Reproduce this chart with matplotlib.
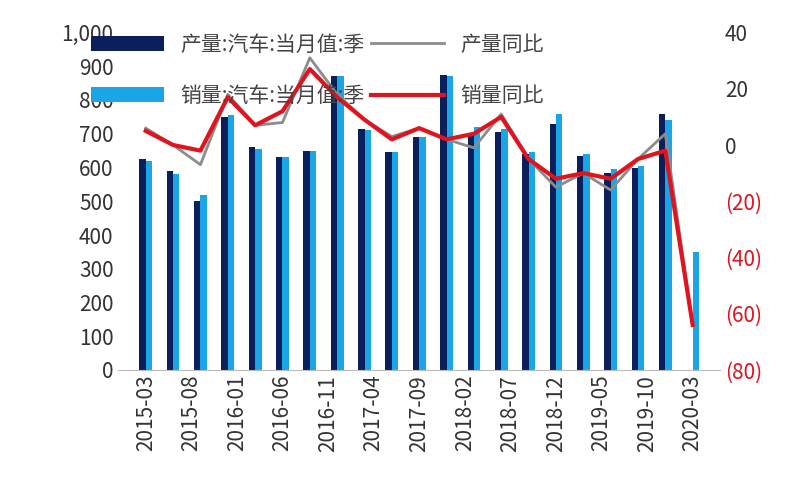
import matplotlib
matplotlib.use("Agg")
import matplotlib.pyplot as plt
from matplotlib import font_manager as fm
import numpy as np

cands = [f for f in fm.findSystemFonts() if 'CJK' in f or 'cjk' in f.lower()]
cands.sort(key=lambda f: (0 if 'SC' in f or 'sc' in f.lower() else 1, f))
if cands:
    fm.fontManager.addfont(cands[0])
    fam = fm.FontProperties(fname=cands[0]).get_name()
    plt.rcParams['font.family'] = 'sans-serif'
    plt.rcParams['font.sans-serif'] = [fam, 'Noto Sans CJK SC', 'DejaVu Sans']
print(cands[:5])

quarters = ['2015-03','2015-06','2015-09','2015-12','2016-03','2016-06','2016-09','2016-12',
            '2017-03','2017-06','2017-09','2017-12','2018-03','2018-06','2018-09','2018-12',
            '2019-03','2019-06','2019-09','2019-12','2020-03']
production = [625,590,500,750,660,630,650,870,715,645,690,875,700,705,640,730,635,585,600,760,0]
sales = [620,580,520,755,655,630,650,870,710,645,690,870,720,715,645,760,640,595,605,740,350]
prod_yoy = [6,0,-7,18,7,8,31,18,9,3,6,2,-1,11,-5,-15,-10,-16,-5,4,-64]
sales_yoy = [5,0,-2,17,7,12,27,17,9,2,6,2,4,10,-5,-12,-10,-12,-5,-2,-64]
tick_labels = ['2015-03','2015-08','2016-01','2016-06','2016-11','2017-04','2017-09',
               '2018-02','2018-07','2018-12','2019-05','2019-10','2020-03']

def midx(s):
    y, m = s.split('-')
    return (int(y) - 2015) * 12 + int(m) - 3

x = np.array([midx(q) for q in quarters])
tx = [midx(t) for t in tick_labels]

fig = plt.figure(figsize=(8, 5), dpi=100)
ax = fig.add_axes([0.148, 0.26, 0.752, 0.675])
ax2 = ax.twinx()
w = 0.7
ax.bar(x - w/2, production, width=w, color='#0b1f5c', label='产量:汽车:当月值:季')
ax.bar(x + w/2, sales, width=w, color='#1aa6e6', label='销量:汽车:当月值:季')
l1, = ax2.plot(x, prod_yoy, color='#8c8c8c', lw=2, label='产量同比')
l2, = ax2.plot(x, sales_yoy, color='#e0141e', lw=3, label='销量同比')

ax.set_xlim(-3, 63)
ax.set_ylim(0, 1000)
ax.set_yticks(range(0, 1001, 100))
ax.set_yticklabels(['0','100','200','300','400','500','600','700','800','900','1,000'])
ax2.set_ylim(-80, 40)
ax2.set_yticks(range(-80, 41, 20))
ylabs = ['(80)','(60)','(40)','(20)','0','20','40']
ax2.set_yticklabels(ylabs)
for a in (ax, ax2):
    for sp in a.spines.values():
        sp.set_visible(False)
    a.tick_params(length=0, labelsize=15, colors='#333333')
for t, s in zip(ax2.get_yticklabels(), ylabs):
    t.set_color('#e0141e' if s.startswith('(') else '#333333')
ax.set_xticks(tx)
ax.set_xticklabels(tick_labels, rotation=90)
ax.spines['bottom'].set_visible(True)
ax.spines['bottom'].set_color('#bbbbbb')

h1, lb1 = ax.get_legend_handles_labels()
fig.legend(h1 + [l1, l2], lb1 + ['产量同比', '销量同比'], ncol=2, loc='upper left',
           bbox_to_anchor=(0.09, 0.97), frameon=False, fontsize=15,
           handlelength=3.5, columnspacing=0.3, labelspacing=1.4, labelcolor='#444444')
fig.savefig('out.png', dpi=100)
